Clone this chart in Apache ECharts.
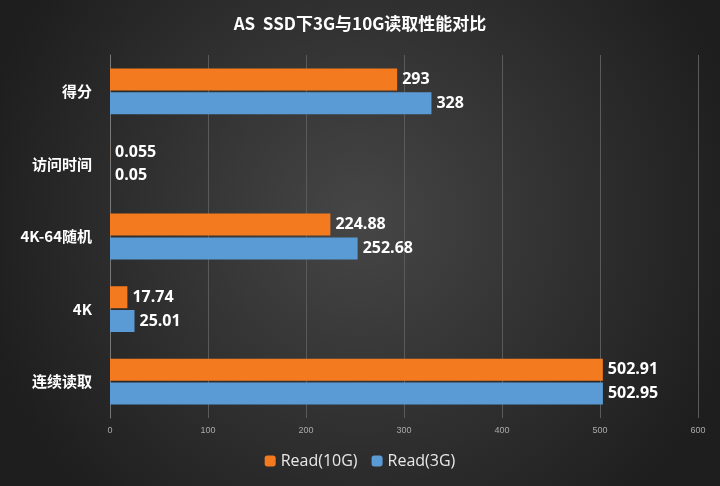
<!DOCTYPE html>
<html lang="zh">
<head>
    <meta charset="utf-8" />
    <title>AS SSD</title>
    <script type="text/javascript" src="https://cdn.jsdelivr.net/npm/echarts@6/dist/echarts.min.js"></script>
</head>
<body style="margin:0;background:#2b2b2b">
    <div id="container" style="width:720px;height:486px;"></div>
</body>
</html>
<script type="text/javascript">
    var categories = ["得分", "访问时间", "4K-64随机", "4K", "连续读取"];
    var read10G = [293, 0.055, 224.88, 17.74, 502.91];
    var read3G = [328, 0.05, 252.68, 25.01, 502.95];

    var myChart = echarts.init(document.getElementById("container"));
    var label = {
        show: true,
        position: 'right',
        color: '#fff',
        fontSize: 16,
        fontWeight: 'bold',
        fontFamily: 'Open Sans'
    };
    var option = {
        backgroundColor: new echarts.graphic.RadialGradient(0.5, 0.45, 0.8, [
            { offset: 0, color: '#464646' },
            { offset: 1, color: '#1e1e1e' }
        ]),
        title: {
            text: 'AS  SSD下3G与10G读取性能对比',
            left: 'center',
            top: 10,
            textStyle: { color: '#fff', fontSize: 17, fontWeight: 'bold', fontFamily: 'Noto Sans CJK SC' }
        },
        legend: {
            bottom: 12,
            itemWidth: 11,
            itemHeight: 11,
            itemGap: 14,
            textStyle: { color: '#e8e8e8', fontSize: 16, fontFamily: 'Open Sans' },
            data: ['Read(10G)', 'Read(3G)']
        },
        grid: { left: 110, right: 22, top: 55, bottom: 68 },
        xAxis: {
            type: 'value',
            min: 0,
            max: 600,
            interval: 100,
            axisLine: { show: false },
            axisTick: { show: false },
            axisLabel: { color: '#aaa', fontSize: 9 },
            splitLine: { lineStyle: { color: '#5a5a5a' } }
        },
        yAxis: {
            type: 'category',
            inverse: true,
            data: categories,
            axisLine: { lineStyle: { color: '#777' } },
            axisTick: { show: false },
            axisLabel: { color: '#fff', fontSize: 15, fontWeight: 'bold', margin: 18, fontFamily: 'Noto Sans CJK SC' }
        },
        series: [
            {
                name: 'Read(10G)', type: 'bar', data: read10G,
                barWidth: 22, barGap: '8%',
                itemStyle: { color: '#f47a20' }, label: label
            },
            {
                name: 'Read(3G)', type: 'bar', data: read3G,
                barWidth: 22,
                itemStyle: { color: '#5b9bd5' }, label: label
            }
        ]
    };
    myChart.setOption(option, true);
</script>
